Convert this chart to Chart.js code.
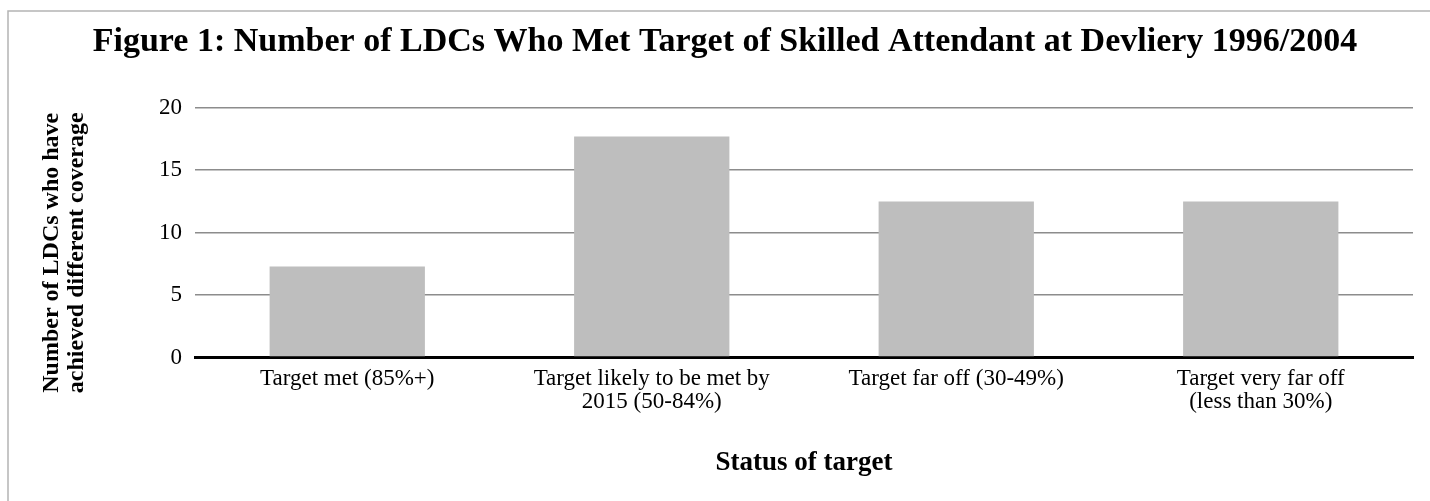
<!DOCTYPE html>
<html>
<head>
<meta charset="utf-8">
<script src="https://cdn.jsdelivr.net/npm/chart.js@4/dist/chart.umd.min.js"></script>
<style>
  html, body { margin: 0; padding: 0; background: #fff; overflow: hidden; }
  #wrap { width: 1430px; height: 501px; }
</style>
</head>
<body>
<div id="wrap"><canvas id="chart"></canvas></div>
<script>
const categories = [
  ['Target met (85%+)'],
  ['Target likely to be met by', '2015 (50-84%)'],
  ['Target far off (30-49%)'],
  ['Target very far off', '(less than 30%)']
];
const ldcCounts = [7.3, 17.7, 12.5, 12.5];
const yTicks = [0, 5, 10, 15, 20];
const yTitleLines = ['Number of LDCs who have', 'achieved different coverage'];

const serif = "'Liberation Serif', 'Times New Roman', serif";

// light grey frame round the figure, cut off on the right and bottom like the source
const framePlugin = {
  id: 'frame',
  beforeDraw(chart) {
    const ctx = chart.ctx;
    ctx.save();
    ctx.fillStyle = '#fff';
    ctx.fillRect(0, 0, chart.width, chart.height);
    ctx.strokeStyle = '#b4b4b4';
    ctx.lineWidth = 1.5;
    ctx.strokeRect(8, 11, chart.width + 20, chart.height + 20);
    ctx.restore();
  }
};

// y axis title sits a bit lower than the plot middle in the source, so draw it by hand
const yTitlePlugin = {
  id: 'yTitle',
  afterDraw(chart) {
    const ctx = chart.ctx;
    const area = chart.chartArea;
    ctx.save();
    ctx.translate(0, (area.top + area.bottom) / 2 + 20);
    ctx.rotate(-Math.PI / 2);
    ctx.fillStyle = '#000';
    ctx.font = 'bold 24px ' + serif;
    ctx.textAlign = 'center';
    ctx.textBaseline = 'middle';
    yTitleLines.forEach((line, i) => ctx.fillText(line, 0, 52 + i * 25));
    ctx.restore();
  }
};

const ctx = document.getElementById('chart').getContext('2d');
new Chart(ctx, {
  type: 'bar',
  data: {
    labels: categories,
    datasets: [{
      data: ldcCounts,
      backgroundColor: '#bebebe',
      borderWidth: 0,
      barPercentage: 1,
      categoryPercentage: 0.51
    }]
  },
  options: {
    responsive: true,
    maintainAspectRatio: false,
    animation: false,
    layout: { padding: { left: 37, right: 17, top: 0, bottom: 0 } },
    plugins: {
      legend: { display: false },
      tooltip: { enabled: false },
      title: {
        display: true,
        text: 'Figure 1: Number of LDCs Who Met Target of Skilled Attendant at Devliery 1996/2004',
        color: '#000',
        font: { family: serif, size: 34, weight: 'bold', lineHeight: 1.2 },
        padding: { top: 22, bottom: 45 }
      }
    },
    scales: {
      x: {
        afterFit(scale) { scale.height = 143.3; },
        grid: { display: false, drawTicks: false },
        border: { display: true, color: '#000', width: 3 },
        ticks: {
          color: '#000',
          padding: 10,
          maxRotation: 0,
          autoSkip: false,
          font: { family: serif, size: 23, lineHeight: 1.0 }
        },
        title: {
          display: true,
          text: 'Status of target',
          color: '#000',
          font: { family: serif, size: 27, weight: 'bold', lineHeight: 1.2 },
          padding: { top: 0, bottom: 22 }
        }
      },
      y: {
        min: 0,
        max: 20,
        afterFit(scale) { scale.width = 158; },
        afterBuildTicks(scale) { scale.ticks = yTicks.map(v => ({ value: v })); },
        grid: {
          drawTicks: false,
          color: c => c.tick && c.tick.value === 0 ? '#000' : '#8c8c8c',
          lineWidth: c => c.tick && c.tick.value === 0 ? 3 : 1.6
        },
        border: { display: false },
        ticks: {
          color: '#000',
          padding: 13,
          font: { family: serif, size: 23 }
        },
        title: { display: false }
      }
    }
  },
  plugins: [framePlugin, yTitlePlugin]
});
</script>
</body>
</html>
